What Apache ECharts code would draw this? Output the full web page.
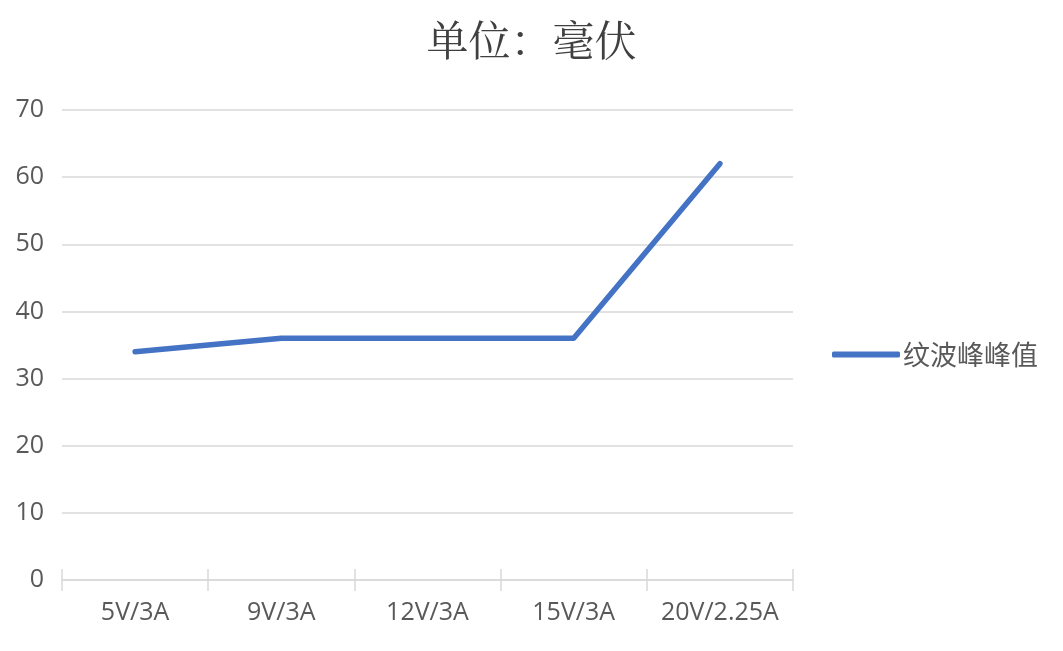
<!DOCTYPE html>
<html><head><meta charset="utf-8">
<script src="https://cdn.jsdelivr.net/npm/echarts@6/dist/echarts.min.js"></script>
<style>html,body{margin:0;padding:0;background:#fff}#c{width:1063px;height:651px}</style>
</head><body><div id="c"></div>
<script>
const categories = ['5V/3A','9V/3A','12V/3A','15V/3A','20V/2.25A'];
const seriesName = '纹波峰峰值';
const values = [34, 36, 36, 36, 62];
const titleText = '单位：毫伏';

const chart = echarts.init(document.getElementById('c'));
chart.setOption({
  animation: false,
  backgroundColor: '#fff',
  title: {
    text: titleText, left: 'center', top: 14,
    textStyle: {fontFamily: '"Noto Serif CJK SC", "Songti SC", SimSun, serif', fontSize: 42, fontWeight: 'normal', color: '#404040'}
  },
  legend: {
    left: 827, top: 336, orient: 'vertical',
    icon: 'roundRect', itemWidth: 68, itemHeight: 6, itemGap: 8,
    data: [seriesName],
    textStyle: {fontFamily: '"Noto Sans CJK SC", sans-serif', fontSize: 27, color: '#595959', padding: [0,0,0,-2]}
  },
  grid: {left: 62, right: 270, top: 110, bottom: 71, containLabel: false},
  xAxis: [{
    type: 'category', data: categories, boundaryGap: true,
    axisLine: {lineStyle: {color: '#d9d9d9', width: 1.5}},
    axisTick: {show: true, interval: 0, length: 11, lineStyle: {color: '#d9d9d9', width: 1.5}},
    axisLabel: {interval: 0, hideOverlap: false, margin: 20, fontSize: 25, color: '#595959', fontFamily: '"Open Sans", "Noto Sans", sans-serif'}
  },{
    type: 'category', data: categories, position: 'bottom', boundaryGap: true,
    axisLine: {show: false},
    axisTick: {show: true, interval: 0, inside: true, length: 11, lineStyle: {color: '#d9d9d9', width: 1.5}},
    axisLabel: {show: false}
  }],
  yAxis: {
    type: 'value', min: 0, max: 70, interval: 10,
    axisLine: {show: false}, axisTick: {show: false},
    axisLabel: {margin: 18, fontSize: 25, color: '#595959', fontFamily: '"Open Sans", "Noto Sans", sans-serif'},
    splitLine: {lineStyle: {color: '#d9d9d9', width: 1.5}}
  },
  series: [{
    name: seriesName, type: 'line', data: values,
    showSymbol: false, symbol: 'none',
    lineStyle: {color: '#4472C4', width: 5.5, cap: 'round', join: 'round'},
    itemStyle: {color: '#4472C4'}
  }]
});
</script></body></html>
